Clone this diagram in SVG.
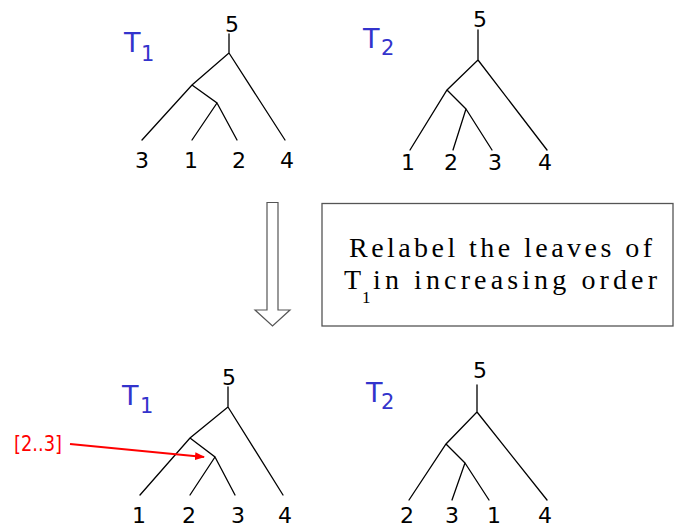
<svg xmlns="http://www.w3.org/2000/svg" width="674" height="529" viewBox="0 0 674 529">
<style>
.lbl{font-family:"DejaVu Sans","Verdana",sans-serif;font-size:22px;fill:#000;text-anchor:middle}
.tn{font-family:"DejaVu Sans","Verdana",sans-serif;font-size:27px;fill:#3333cc}
.ts{font-family:"DejaVu Sans","Verdana",sans-serif;font-size:21px;fill:#3333cc}
.edge{stroke:#000;stroke-width:1.3;fill:none;stroke-linecap:round}
.ser{font-family:"Liberation Serif","Times New Roman",serif;font-size:28px;fill:#000}
</style>
<defs>
<marker id="redhead" markerWidth="10" markerHeight="8" refX="9" refY="4" orient="auto" markerUnits="userSpaceOnUse">
<path d="M0,0 L10,4 L0,8 z" fill="#ff0000"/>
</marker>
</defs>
<rect width="674" height="529" fill="#fff"/>

<g id="connectors">
<path class="edge" d="M229,34 V53 L192,85 L142,140 M192,85 L217,103 L192,140 M217,103 L237,140 M229,53 L285,140"/>
<path class="edge" d="M478,30 V60 L447,90 L410,150 M447,90 L466,109 L453,150 M466,109 L492,150 M478,60 L547,150"/>
<path class="edge" d="M228,387 V407 L190,438 L140,495 M190,438 L215,457 L190,495 M215,457 L235,495 M228,407 L283,495"/>
<path class="edge" d="M477,385 V412 L446,444 L409,500 M446,444 L465,463 L452,500 M465,463 L489,500 M477,412 L547,500"/>
<line x1="70" y1="444" x2="204" y2="457" stroke="#ff0000" stroke-width="2" marker-end="url(#redhead)"/>
<polygon points="267,202.5 278,202.5 278,310 290,310 272.5,326 255,310 267,310" fill="#fff" stroke="#555" stroke-width="1.2"/>
</g>

<g id="t1-top-title"><text class="tn" x="124" y="52">T</text><text class="ts" x="141" y="61">1</text></g>
<g id="t1-top-5"><text class="lbl" x="232" y="32">5</text></g>
<g id="t1-top-3"><text class="lbl" x="142" y="168">3</text></g>
<g id="t1-top-1"><text class="lbl" x="191" y="168">1</text></g>
<g id="t1-top-2"><text class="lbl" x="239" y="168">2</text></g>
<g id="t1-top-4"><text class="lbl" x="287" y="168">4</text></g>

<g id="t2-top-title"><text class="tn" x="363" y="48">T</text><text class="ts" x="381" y="55">2</text></g>
<g id="t2-top-5"><text class="lbl" x="480" y="27">5</text></g>
<g id="t2-top-1"><text class="lbl" x="408" y="170">1</text></g>
<g id="t2-top-2"><text class="lbl" x="451" y="170">2</text></g>
<g id="t2-top-3"><text class="lbl" x="495" y="170">3</text></g>
<g id="t2-top-4"><text class="lbl" x="545" y="170">4</text></g>

<g id="relabel-box">
<rect x="322" y="203.5" width="351" height="122.5" fill="#fff" stroke="#555" stroke-width="1.3"/>
<text class="ser" x="349" y="256.5" textLength="303" lengthAdjust="spacing">Relabel the leaves of</text>
<text class="ser" x="344" y="288.5">T</text>
<text class="ser" x="362" y="303" style="font-size:17px">1</text>
<text class="ser" x="373" y="288.5" textLength="284" lengthAdjust="spacing">in increasing order</text>
</g>

<g id="t1-bot-title"><text class="tn" x="122" y="405">T</text><text class="ts" x="140" y="413">1</text></g>
<g id="t1-bot-5"><text class="lbl" x="229" y="385">5</text></g>
<g id="t1-bot-1"><text class="lbl" x="139" y="523">1</text></g>
<g id="t1-bot-2"><text class="lbl" x="189" y="523">2</text></g>
<g id="t1-bot-3"><text class="lbl" x="238" y="523">3</text></g>
<g id="t1-bot-4"><text class="lbl" x="285" y="523">4</text></g>
<g id="range-label"><text x="14" y="451" textLength="48" lengthAdjust="spacingAndGlyphs" style="font-family:'DejaVu Sans',sans-serif;font-size:21px;fill:#ff0000">[2..3]</text></g>

<g id="t2-bot-title"><text class="tn" x="366" y="402">T</text><text class="ts" x="381" y="409">2</text></g>
<g id="t2-bot-5"><text class="lbl" x="480" y="378">5</text></g>
<g id="t2-bot-2"><text class="lbl" x="407" y="523">2</text></g>
<g id="t2-bot-3"><text class="lbl" x="452" y="523">3</text></g>
<g id="t2-bot-1"><text class="lbl" x="494" y="523">1</text></g>
<g id="t2-bot-4"><text class="lbl" x="545" y="523">4</text></g>
</svg>
